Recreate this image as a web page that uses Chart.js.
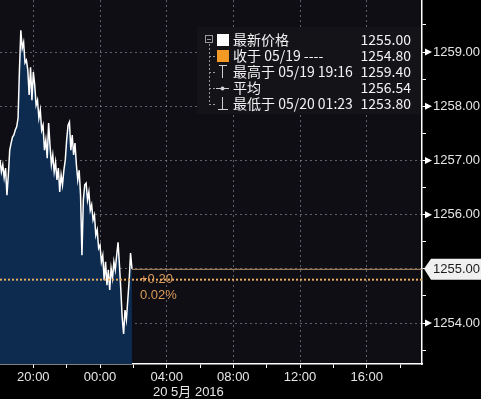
<!DOCTYPE html>
<html>
<head>
<meta charset="utf-8">
<script src="https://cdn.jsdelivr.net/npm/chart.js@4"></script>
<style>
  html, body { margin: 0; padding: 0; background: #000; }
  #wrap { width: 481px; height: 399px; }
</style>
</head>
<body>
<div id="wrap"><canvas id="c" width="481" height="399"></canvas></div>
<script>
// price ticks, 5 minute steps from 18:00 (19 May)
const startTime = '18:00';
const stepMinutes = 5;
const prices = [
  1257.01, 1256.79, 1256.92, 1256.68, 1256.86, 1256.36, 1256.73, 1257.19, 1257.32, 1257.43,
  1257.47, 1257.56, 1257.62, 1257.78, 1258.67, 1259.40, 1259.07, 1259.18, 1258.80, 1258.85,
  1258.67, 1258.21, 1258.72, 1258.11, 1258.63, 1258.39, 1258.02, 1258.11, 1257.78, 1257.93,
  1257.56, 1257.65, 1257.19, 1257.38, 1257.04, 1257.69, 1257.28, 1256.92, 1257.10, 1256.79,
  1256.97, 1256.64, 1256.86, 1256.42, 1256.73, 1256.55, 1256.82, 1257.01, 1257.38, 1257.65,
  1257.71, 1257.19, 1257.47, 1257.10, 1257.32, 1256.92, 1256.64, 1256.82, 1256.36, 1255.25,
  1256.27, 1256.55, 1256.58, 1256.27, 1256.42, 1256.08, 1256.18, 1255.90, 1255.99, 1255.62,
  1255.72, 1255.38, 1255.44, 1255.13, 1255.25, 1254.79, 1255.13, 1254.70, 1254.98, 1254.61,
  1255.01, 1254.83, 1255.13, 1254.98, 1255.25, 1255.49, 1255.07, 1254.61, 1254.09, 1253.80,
  1254.24, 1254.06, 1254.42, 1254.79, 1255.29, 1255.00
];

const xTickLabels = ['20:00', '00:00', '04:00', '08:00', '12:00', '16:00'];
const yTickValues = [1254, 1255, 1256, 1257, 1258, 1259];
const dateLabel = '20 5月 2016';

const legendNames = ['最新价格', '收于 05/19 ----', '最高于 05/19 19:16', '平均', '最低于 05/20 01:23'];
const legendValues = [1255.00, 1254.80, 1259.40, 1256.54, 1253.80];
const lastPrice = 1255.00;
const prevClose = 1254.80;
const changeText = '+0.20';
const changePct = '0.02%';

function hoursOf(t) {
  const [h, m] = t.split(':').map(Number);
  const [sh, sm] = startTime.split(':').map(Number);
  return (((h * 60 + m) - (sh * 60 + sm) + 1440) % 1440) / 60;
}

const points = prices.map((p, i) => ({ x: i * stepMinutes / 60, y: p }));
const xMajor = xTickLabels.map(hoursOf);
const xTicks = [];
xMajor.forEach(h => { xTicks.push(h, h + 2); });
const yTicks = [];
yTickValues.forEach(v => { yTicks.push(v - 0.5, v); });
yTicks.push(yTickValues[yTickValues.length - 1] + 0.5);

const gridColor = 'rgba(150,150,160,0.6)';

function noPad(s) {
  s.paddingTop = 0;
  s.paddingBottom = 0;
  s.paddingLeft = 0;
  s.paddingRight = 0;
}

const bgPlugin = {
  id: 'bg',
  beforeDraw(chart) {
    const { ctx, chartArea: a } = chart;
    ctx.save();
    ctx.fillStyle = '#000';
    ctx.fillRect(0, 0, chart.width, chart.height);
    ctx.fillStyle = '#0f0e14';
    ctx.fillRect(a.left, a.top, a.right - a.left, a.bottom - a.top);
    ctx.restore();
  }
};

const overlayPlugin = {
  id: 'overlay',
  afterDatasetsDraw(chart) {
    const { ctx, chartArea: a } = chart;
    const xs = chart.scales.x, ys = chart.scales.y;
    const last = points[points.length - 1];
    ctx.save();

    // previous close, dotted
    const yc = ys.getPixelForValue(prevClose);
    ctx.strokeStyle = '#e6ae62';
    ctx.lineWidth = 2;
    ctx.setLineDash([2, 2]);
    ctx.beginPath();
    ctx.moveTo(a.left, yc);
    ctx.lineTo(a.right, yc);
    ctx.stroke();

    // last price line
    const yl = ys.getPixelForValue(lastPrice);
    ctx.setLineDash([]);
    ctx.lineWidth = 1;
    ctx.strokeStyle = '#b89068';
    ctx.beginPath();
    ctx.moveTo(xs.getPixelForValue(last.x), yl + 0.5);
    ctx.lineTo(a.right, yl + 0.5);
    ctx.stroke();

    // change text
    ctx.font = '13px "Liberation Sans"';
    ctx.fillStyle = '#d89a58';
    ctx.textBaseline = 'middle';
    ctx.textAlign = 'left';
    ctx.fillText(changeText, 140, yc);
    ctx.fillText(changePct, 140, yc + 16);

    // legend box
    ctx.fillStyle = '#141318';
    ctx.fillRect(197, 27, 224, 87);
    const rowY = [40, 56, 72, 88, 104];
    ctx.strokeStyle = '#9a9a9a';
    ctx.lineWidth = 1;
    ctx.strokeRect(205.5, 35.5, 7, 7);
    ctx.beginPath();
    ctx.moveTo(207, 39.5); ctx.lineTo(211, 39.5);
    ctx.stroke();
    ctx.setLineDash([2, 2]);
    ctx.beginPath();
    ctx.moveTo(209.5, 44); ctx.lineTo(209.5, rowY[4]);
    rowY.slice(1).forEach(y => { ctx.moveTo(209, y + 0.5); ctx.lineTo(215, y + 0.5); });
    ctx.stroke();
    ctx.setLineDash([]);

    // icons
    ctx.fillStyle = '#ffffff';
    ctx.fillRect(217, 34, 12, 12);
    ctx.fillStyle = '#f39a24';
    ctx.fillRect(217, 50, 12, 12);
    ctx.strokeStyle = '#d0d0d0';
    ctx.beginPath();
    ctx.moveTo(219, 65.5); ctx.lineTo(227, 65.5);
    ctx.moveTo(222.5, 65); ctx.lineTo(222.5, 78);
    ctx.moveTo(216, 88.5); ctx.lineTo(229, 88.5);
    ctx.moveTo(222.5, 97); ctx.lineTo(222.5, 109);
    ctx.moveTo(218, 109.5); ctx.lineTo(228, 109.5);
    ctx.stroke();
    ctx.fillStyle = '#d0d0d0';
    ctx.beginPath();
    ctx.arc(222.5, 88.5, 2, 0, Math.PI * 2);
    ctx.fill();

    ctx.fillStyle = '#f2f2f2';
    ctx.font = '14px "Noto Sans CJK SC"';
    legendNames.forEach((n, i) => {
      ctx.textAlign = 'left';
      ctx.fillText(n, 233, rowY[i]);
      ctx.textAlign = 'right';
      ctx.fillText(legendValues[i].toFixed(2), 411, rowY[i]);
    });
    ctx.restore();
  },
  afterDraw(chart) {
    const { ctx, chartArea: a } = chart;
    const ys = chart.scales.y;
    ctx.save();
    ctx.fillStyle = '#ffffff';
    yTickValues.forEach(v => {
      if (v === lastPrice) return;
      const y = ys.getPixelForValue(v);
      ctx.beginPath();
      ctx.moveTo(a.right + 3, y - 3.5);
      ctx.lineTo(a.right + 10, y);
      ctx.lineTo(a.right + 3, y + 3.5);
      ctx.closePath();
      ctx.fill();
    });

    // last price tag
    const yl = ys.getPixelForValue(lastPrice);
    ctx.fillStyle = '#f0f0f0';
    ctx.beginPath();
    ctx.moveTo(a.right + 2, yl);
    ctx.lineTo(a.right + 9, yl - 10);
    ctx.lineTo(481, yl - 10);
    ctx.lineTo(481, yl + 11);
    ctx.lineTo(a.right + 9, yl + 11);
    ctx.closePath();
    ctx.fill();
    ctx.fillStyle = '#1a1a1a';
    ctx.font = '13px "Liberation Sans"';
    ctx.textBaseline = 'middle';
    ctx.textAlign = 'left';
    ctx.fillText(lastPrice.toFixed(2), a.right + 11, yl + 1);

    // date under x axis
    ctx.fillStyle = '#e6e6e6';
    ctx.font = '13px "Liberation Sans", "Noto Sans CJK SC"';
    ctx.fillText(dateLabel, 153, 392);
    ctx.restore();
  }
};

const chart = new Chart(document.getElementById('c'), {
  type: 'line',
  data: {
    datasets: [{
      data: points,
      borderColor: '#ffffff',
      borderWidth: 1.5,
      backgroundColor: '#0c2b4f',
      fill: 'start',
      pointRadius: 0,
      tension: 0
    }]
  },
  options: {
    responsive: false,
    animation: false,
    layout: { padding: 0 },
    plugins: {
      legend: { display: false },
      tooltip: { enabled: false }
    },
    scales: {
      x: {
        type: 'linear',
        min: 0,
        max: 25.32,
        afterBuildTicks: s => { s.ticks = xTicks.map(v => ({ value: v })); },
        afterFit: s => { s.height = 35; noPad(s); },
        grid: {
          color: c => xMajor.includes(c.tick.value) ? gridColor : 'transparent',
          tickColor: '#ffffff',
          tickLength: 4,
          lineWidth: 1
        },
        border: { color: '#ffffff', width: 1.5, dash: [2, 3] },
        ticks: {
          color: '#e6e6e6',
          font: { size: 13, family: 'Liberation Sans' },
          padding: 2,
          maxRotation: 0,
          autoSkip: false,
          callback: v => {
            const i = xMajor.indexOf(v);
            return i >= 0 ? xTickLabels[i] : '';
          }
        }
      },
      y: {
        position: 'right',
        min: 1253.244,
        max: 1259.96,
        afterBuildTicks: s => { s.ticks = yTicks.map(v => ({ value: v })); },
        afterFit: s => { s.width = 59; noPad(s); },
        grid: {
          color: c => yTickValues.includes(c.tick.value) ? gridColor : 'transparent',
          tickColor: '#ffffff',
          tickLength: 4,
          lineWidth: 1
        },
        border: { color: '#ffffff', width: 1.5, dash: [2, 3] },
        ticks: {
          color: '#e6e6e6',
          font: { size: 13, family: 'Liberation Sans' },
          padding: 7,
          callback: v => (yTickValues.includes(v) && v !== lastPrice) ? v.toFixed(2) : ''
        }
      }
    }
  },
  plugins: [bgPlugin, overlayPlugin]
});
</script>
</body>
</html>
